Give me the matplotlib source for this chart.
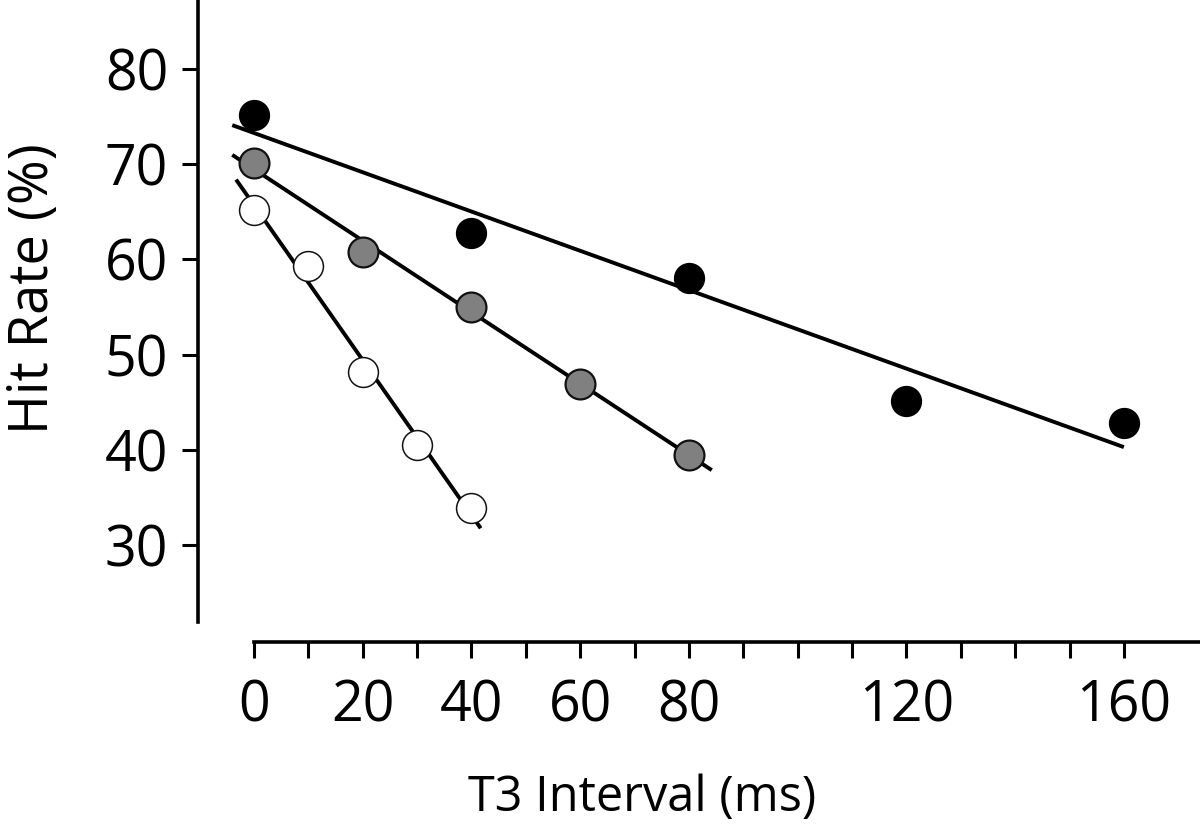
import matplotlib
matplotlib.use('Agg')
import matplotlib.pyplot as plt
import numpy as np

plt.rcParams['font.family'] = ['Open Sans', 'DejaVu Sans']

# datos (intervalo T3 en ms, tasa de aciertos en %)
x_negro = [0, 40, 80, 120, 160]
y_negro = [75.2, 62.8, 58.0, 45.1, 42.8]

x_gris = [0, 20, 40, 60, 80]
y_gris = [70.1, 60.8, 55.0, 46.9, 39.5]

x_blanco = [0, 10, 20, 30, 40]
y_blanco = [65.2, 59.3, 48.2, 40.5, 33.9]

# rango de cada recta de ajuste
rango_negro = [-4, 160]
rango_gris = [-4, 84.2]
rango_blanco = [-3.3, 41.7]

xticks_mayores = [0, 20, 40, 60, 80, 120, 160]
yticks = [30, 40, 50, 60, 70, 80]

fig = plt.figure(figsize=(12, 8.31), dpi=100)
ax = fig.add_axes([198 / 1200, 1 - 642 / 831, 1 - 198 / 1200, 642 / 831])

series = [
    (x_negro, y_negro, rango_negro, 'black', 'black', 1.0),
    (x_gris, y_gris, rango_gris, '#808080', '#111111', 1.6),
    (x_blanco, y_blanco, rango_blanco, 'white', '#111111', 1.1),
]

for xs, ys, rango, relleno, borde, grosor in series:
    m, b = np.polyfit(xs, ys, 1)
    xr = np.array(rango)
    ax.plot(xr, m * xr + b, color='black', linewidth=2.8, solid_capstyle='butt', zorder=2)
    ax.plot(xs, ys, linestyle='none', marker='o', markersize=21.5,
            markerfacecolor=relleno, markeredgecolor=borde, markeredgewidth=grosor, zorder=3)

ax.set_xlim(-10.3, 174.0)
ax.set_ylim(19.81, 87.25)

for lado in ['top', 'right']:
    ax.spines[lado].set_visible(False)
ax.spines['left'].set_linewidth(2.6)
ax.spines['bottom'].set_linewidth(2.6)
ax.spines['left'].set_bounds(21.9, 87.25)
ax.spines['bottom'].set_bounds(0, 174.0)

ax.set_xticks(np.arange(0, 170, 10), minor=True)
ax.set_xticks(xticks_mayores)
ax.set_xticklabels([str(v) for v in xticks_mayores])
ax.set_yticks(yticks)
ax.set_yticklabels([str(v) for v in yticks])

ax.tick_params(axis='both', which='both', direction='out', width=2.2, length=11.5, labelsize=40, color='black')
ax.tick_params(axis='y', pad=10)
ax.tick_params(axis='x', pad=15)

ax.set_xlabel('T3 Interval (ms)', fontsize=35)
ax.xaxis.set_label_coords((642 - 198) / 1002, -0.205)
ax.set_ylabel('Hit Rate (%)', fontsize=39)
ax.yaxis.set_label_coords(-0.137, 0.55)

fig.savefig('out.png', dpi=100)
